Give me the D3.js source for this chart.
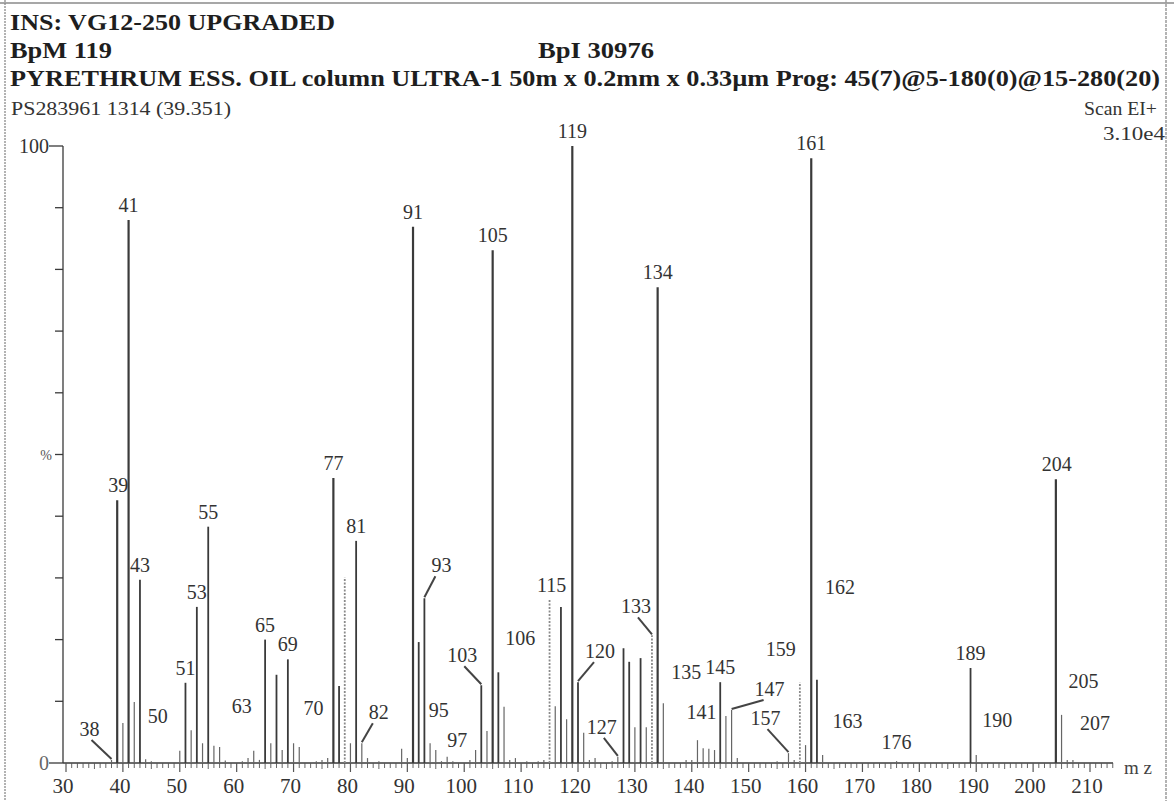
<!DOCTYPE html>
<html><head><meta charset="utf-8">
<script src="https://cdn.jsdelivr.net/npm/d3@7"></script>
<style>
html,body{margin:0;padding:0;background:#fff;}
svg{display:block;}
svg text{font-family:"Liberation Serif","Times New Roman",serif;}
</style></head>
<body><svg id="c" width="1174" height="801"></svg>
<script>
// ---- data ----
const titleLines = ["INS: VG12-250 UPGRADED", "BpM 119", "BpI 30976",
  "PYRETHRUM ESS. OIL column ULTRA-1 50m x 0.2mm x 0.33\u00b5m  Prog: 45(7)@5-180(0)@15-280(20)",
  "PS283961 1314 (39.351)", "Scan EI+", "3.10e4"];
const mz = [38,39,40,41,42,43,44,45,50,51,52,53,54,55,56,57,58,61,62,63,64,65,66,67,68,69,70,71,74,75,76,77,78,79,80,81,82,83,85,89,90,91,92,93,94,95,96,97,98,101,102,103,104,105,106,107,108,109,111,113,114,115,116,117,118,119,120,121,122,123,126,127,128,129,130,131,132,133,134,135,139,140,141,142,143,144,145,146,147,148,155,157,158,159,160,161,162,163,176,189,190,204,205,206,207];
const intensity = [0.5,42.6,6.5,88.0,9.9,29.7,0.6,0.3,2.0,13.0,5.3,25.3,3.2,38.3,2.8,2.6,0.4,0.3,0.8,2.0,0.5,20.0,3.2,14.3,2.1,16.8,3.2,2.6,0.3,0.5,0.8,46.2,12.5,30.1,3.2,36.0,3.2,0.8,0.3,2.3,0.8,86.9,19.6,26.7,3.2,2.1,0.3,1.0,0.3,0.5,2.1,12.6,5.2,83.1,14.7,9.1,0.5,0.8,0.3,0.3,0.5,26.4,9.2,25.3,7.1,100,13.1,4.9,0.5,0.8,0.3,1.0,18.6,16.4,5.8,17.0,5.8,20.7,77.1,9.7,0.5,0.5,3.7,2.4,2.3,2.1,13.1,7.6,8.6,0.8,0.3,1.6,0.5,13.1,2.9,98.0,13.5,1.3,0.3,15.4,1.3,46.0,7.8,0.5,0.5];
const labelled = [38,39,41,43,50,51,53,55,63,65,69,70,77,81,82,91,93,95,97,103,105,106,115,119,120,127,133,134,135,141,145,147,157,159,161,162,163,176,189,190,204,205,207];
const xTicks = [30,40,50,60,70,80,90,100,110,120,130,140,150,160,170,180,190,200,210];
const yTicks = [0,10,20,30,40,50,60,70,80,90,100];

// ---- layout ----
const svg = d3.select("#c");
const x = d3.scaleLinear().domain([30,210]).range([66,1090]);
const y = d3.scaleLinear().domain([0,100]).range([763,146]);
const axisLeftX = 63, axisEnd = 1113;
const ink = "#3a3a3a";

// frame (scan border)
svg.append("line").attr("x1",5).attr("x2",5).attr("y1",0).attr("y2",801)
  .attr("stroke","#9a9a9a").attr("stroke-width",1.5).attr("stroke-dasharray","2,1");
svg.append("line").attr("x1",0).attr("x2",1174).attr("y1",3).attr("y2",3)
  .attr("stroke","#8a8a8a").attr("stroke-width",1.5);
svg.append("line").attr("x1",1166).attr("x2",1166).attr("y1",0).attr("y2",801)
  .attr("stroke","#9a9a9a").attr("stroke-width",1.5).attr("stroke-dasharray","3,1");

// header text
const hdr = svg.append("g").attr("fill","#1e1e1e");
function ht(t,xp,yp,fs,bold,len,anchor,fill){
  const e = hdr.append("text").attr("x",xp).attr("y",yp).attr("font-size",fs)
    .attr("font-weight",bold?"bold":"normal").text(t);
  if (len) e.attr("textLength",len).attr("lengthAdjust","spacingAndGlyphs");
  if (anchor) e.attr("text-anchor",anchor);
  if (fill) e.attr("fill",fill);
}
ht(titleLines[0],10,30,24,true,325);
ht(titleLines[1],10,58,24,true,102);
ht(titleLines[2],538,58,24,true,116);
ht(titleLines[3],10,86,24,true,1150);
ht(titleLines[4],11,115,18,false,220,null,"#333");
ht(titleLines[5],1157,115,18,false,73,"end","#333");
ht(titleLines[6],1165,140,18,false,62,"end","#333");

// y axis
const ya = svg.append("g").attr("stroke",ink).attr("stroke-width",1.3);
ya.append("line").attr("x1",axisLeftX).attr("x2",axisLeftX).attr("y1",y(100)).attr("y2",y(0));
ya.selectAll("line.t").data(yTicks).join("line").attr("class","t")
  .attr("x1",d => (d===0||d===100) ? axisLeftX-14 : axisLeftX-8).attr("x2",axisLeftX)
  .attr("y1",d=>y(d)).attr("y2",d=>y(d));
svg.append("text").attr("x",axisLeftX-14).attr("y",y(100)+7).attr("text-anchor","end")
  .attr("font-size",20).attr("fill","#333").text("100");
svg.append("text").attr("x",axisLeftX-14).attr("y",y(0)+7).attr("text-anchor","end")
  .attr("font-size",20).attr("fill","#666").text("0");
svg.append("text").attr("x",axisLeftX-11).attr("y",y(50)+5).attr("text-anchor","end")
  .attr("font-size",14).attr("fill","#555").text("%");

// x axis
const xa = svg.append("g").attr("stroke",ink);
xa.append("line").attr("x1",axisLeftX).attr("x2",axisEnd).attr("y1",y(0)).attr("y2",y(0)).attr("stroke-width",1.6);
const minor = d3.range(30,215,1);
xa.selectAll("line.m").data(minor).join("line").attr("class","m")
  .attr("x1",d=>x(d)).attr("x2",d=>x(d)).attr("y1",y(0))
  .attr("y2",d=> d%10===0 ? y(0)+9 : (d%5===0 ? y(0)+6 : y(0)+5))
  .attr("stroke-width",d=> d%10===0 ? 1.2 : 0.9).attr("stroke","#555");
svg.append("g").selectAll("text").data(xTicks).join("text")
  .attr("x",d=>x(d)-3).attr("y",793).attr("text-anchor","middle")
  .attr("font-size",21).attr("fill","#333").text(d=>d);
svg.append("text").attr("x",1124).attr("y",774).attr("font-size",19).attr("fill","#444").text("m z");

// peaks
const peaks = mz.map((m,i)=>({m, v:intensity[i]}));
const light = new Set([79,115,133,159]);
svg.append("g").selectAll("line").data(peaks).join("line")
  .attr("x1",d=>x(d.m)).attr("x2",d=>x(d.m))
  .attr("y1",y(0)).attr("y2",d=>y(d.v))
  .attr("stroke",d=> light.has(d.m) ? "#8a8a8a" : (d.v>10 ? "#3a3a3a" : "#666"))
  .attr("stroke-width",d=> d.v>40 ? 2.2 : (d.v>10 ? 1.8 : 1.2))
  .attr("stroke-dasharray",d=> light.has(d.m) ? "2,1.5" : null);

// labels: default above top; some offset with leader lines
const offs = {
  38:{dx:-22,dy:-16,lead:true}, 39:{dx:1,dy:0}, 43:{dx:0,dy:0}, 50:{dx:-22,dy:-20},
  51:{dx:0,dy:0}, 63:{dx:-12,dy:-30}, 69:{dx:0,dy:0}, 70:{dx:20,dy:-20},
  82:{dx:17,dy:-16,lead:true}, 93:{dx:17,dy:-18,lead:true}, 95:{dx:3,dy:-25}, 97:{dx:10,dy:-2},
  103:{dx:-19,dy:-15,lead:true}, 106:{dx:22,dy:-19}, 115:{dx:2,dy:0},
  120:{dx:22,dy:-16,lead:true}, 127:{dx:-16,dy:-15,lead:true}, 133:{dx:-16,dy:-14,lead:true},
  135:{dx:23,dy:-16}, 141:{dx:4,dy:-13}, 145:{dx:0,dy:0}, 147:{dx:38,dy:-6,lead:true},
  157:{dx:-23,dy:-20,lead:true}, 159:{dx:-19,dy:-18}, 162:{dx:23,dy:-78}, 163:{dx:25,dy:-19},
  176:{dx:0,dy:-4}, 189:{dx:0,dy:0}, 190:{dx:21,dy:-20}, 204:{dx:1,dy:0}, 205:{dx:22,dy:-19}, 207:{dx:22,dy:-22}
};
const lab = svg.append("g");
labelled.forEach(m => {
  const v = intensity[mz.indexOf(m)];
  const o = offs[m] || {dx:0,dy:0};
  const px = x(m), py = y(v);
  const tx = px + o.dx, ty = py - 8 + o.dy;
  if (o.lead) {
    lab.append("line").attr("x1",px).attr("y1",py-1).attr("x2", o.dx<0 ? tx+2 : tx-6).attr("y2",ty+4)
      .attr("stroke","#444").attr("stroke-width",2);
  }
  lab.append("text").attr("x",tx).attr("y",ty).attr("text-anchor","middle")
    .attr("font-size",20).attr("fill","#333").text(m);
});
</script></body></html>
